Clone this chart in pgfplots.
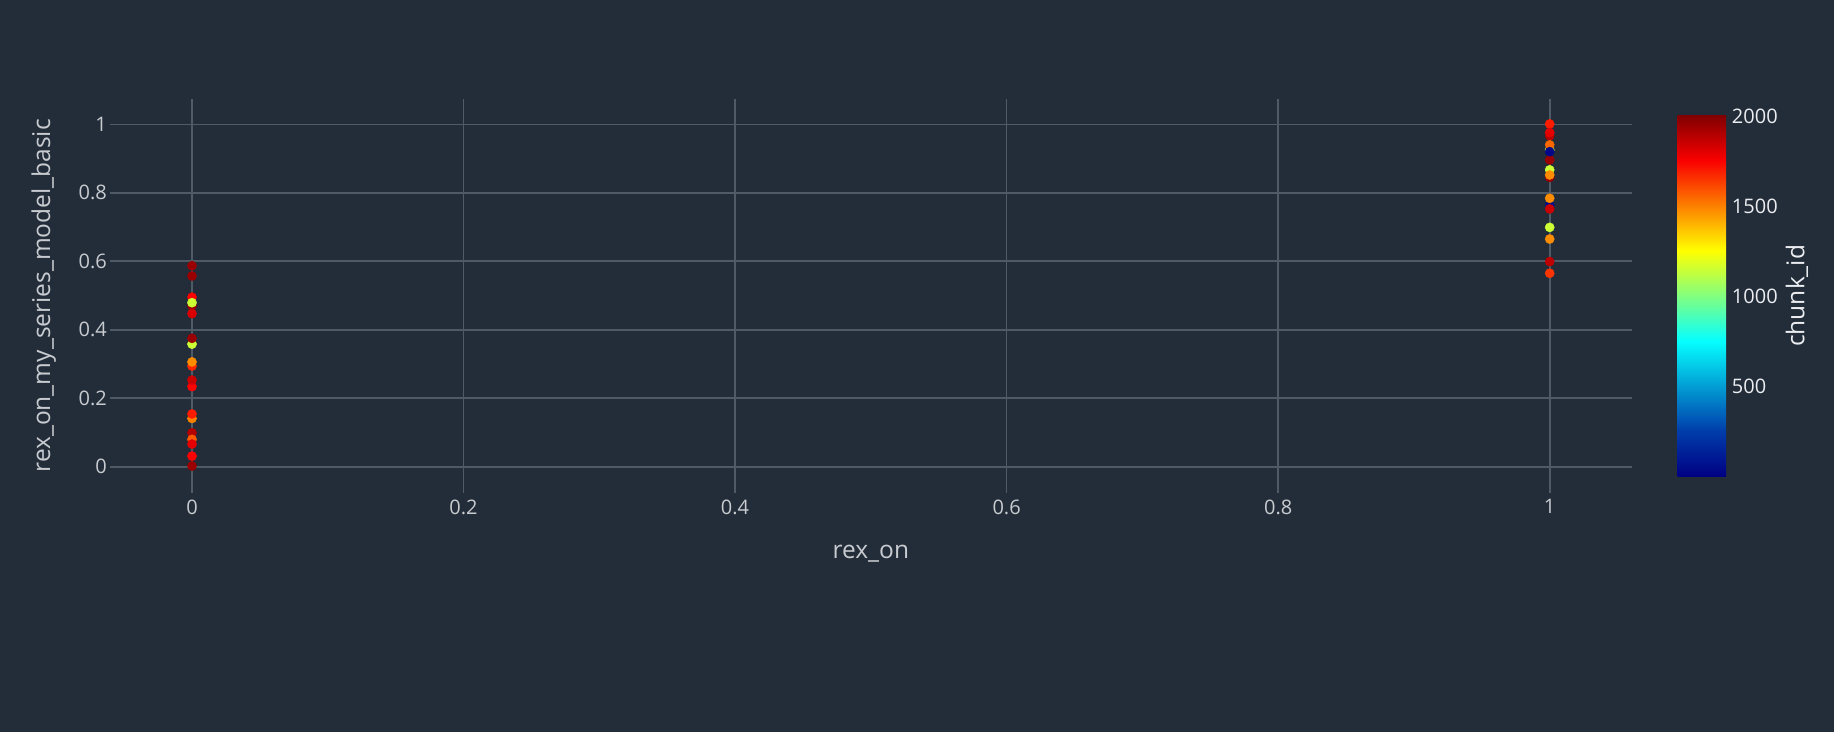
\documentclass[border=0pt]{standalone}
\usepackage{pgfplots}
\pgfplotsset{compat=1.18}
\usepackage{fontspec}
\setmainfont{Open Sans}
\definecolor{bg}{RGB}{35,45,58}
\definecolor{gridc}{RGB}{78,90,102}
\definecolor{txt}{RGB}{200,203,207}
\definecolor{txtw}{RGB}{235,237,240}

\pgfplotstableread{
x y c
0 0.002 1950
0 0.031 1750
0 0.099 1900
0 0.080 1580
0 0.066 1800
0 0.141 1500
0 0.154 1700
0 0.234 1750
0 0.253 1850
0 0.294 1680
0 0.306 1480
0 0.358 1150
0 0.375 1950
0 0.587 1950
0 0.557 1950
0 0.470 1950
0 0.495 1750
0 0.479 1150
0 0.447 1820
1 1.001 1700
1 0.966 1900
1 0.976 1800
1 0.925 1150
1 0.940 1550
1 0.896 1950
1 0.920 30
1 0.845 1950
1 0.867 1150
1 0.852 1480
1 0.764 60
1 0.753 1850
1 0.784 1480
1 0.699 1150
1 0.665 1480
1 0.599 1880
1 0.565 1650
}\pts

\begin{document}
\begin{tikzpicture}[x=1pt,y=1pt]
\fill[bg] (0,0) rectangle (1834,732);
\begin{axis}[
  at={(110pt,239.3pt)}, anchor=south west,
  scale only axis, width=1521.7pt, height=393.7pt,
  xmin=-0.0604, xmax=1.0604, ymin=-0.0759, ymax=1.0739,
  xtick={0,0.2,0.4,0.6,0.8,1},
  ytick={0,0.2,0.4,0.6,0.8,1},
  grid=major,
  major grid style={gridc, line width=1.6pt},
  axis line style={draw=none},
  major tick length=0pt,
  /pgf/number format/assume math mode=true,
  tick label style={font=\fontsize{20}{24}\selectfont, text=txt},
  xticklabel style={anchor=north, inner sep=0pt, yshift=-6.6pt},
  yticklabel style={anchor=east, inner sep=0pt, xshift=-3pt},
  xlabel={rex\_on},
  ylabel={rex\_on\_my\_series\_model\_basic},
  every axis x label/.style={at={(axis description cs:0.5,-0.1666)}, anchor=base, font=\fontsize{24.5}{29}\selectfont, text=txt},
  every axis y label/.style={at={(axis description cs:-0.0394,0.5)}, anchor=base, rotate=90, font=\fontsize{24.5}{29}\selectfont, text=txt},
  colormap={plotlyjet}{rgb255(0)=(0,0,131) rgb255(1)=(0,60,170) rgb255(3)=(5,255,255) rgb255(5)=(255,255,0) rgb255(7)=(250,0,0) rgb255(8)=(128,0,0)},
  point meta min=0, point meta max=2005,
  colorbar,
  colorbar/width=48.3pt,
  colorbar style={
    at={(parent axis.north east)}, anchor=north west,
    xshift=37.5pt, yshift=-16pt,
    scale only axis, width=48.3pt, height=361.7pt,
    ytick={500,1000,1500,2000},
    major tick length=0pt,
    axis line style={draw=none},
    /pgf/number format/assume math mode=true,
    /pgf/number format/1000 sep={},
    yticklabel style={anchor=west, inner sep=0pt, xshift=5.7pt, font=\fontsize{20}{24}\selectfont, text=txtw},
    ylabel={chunk\_id},
    every axis y label/.style={at={(axis description cs:2.62,0.5)}, anchor=base, rotate=90, font=\fontsize{24.5}{29}\selectfont, text=txtw},
  },
]
\addplot[scatter, only marks, mark=*, mark size=4.6pt,
  scatter/use mapped color={draw=mapped color, fill=mapped color},
  point meta=explicit]
  table[x=x, y=y, meta=c] {\pts};
\end{axis}
\end{tikzpicture}
\end{document}
